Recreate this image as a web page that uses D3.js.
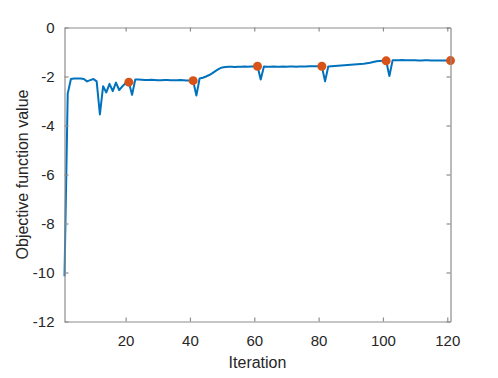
<!DOCTYPE html>
<html>
<head>
<meta charset="utf-8">
<script src="https://cdn.jsdelivr.net/npm/d3@7"></script>
<style>
  html, body { margin: 0; padding: 0; background: #fff; }
  svg { display: block; font-family: "Liberation Sans", Arial, Helvetica, sans-serif; }
</style>
</head>
<body>
<svg id="chart" width="498" height="378"></svg>
<script>
// ---- data ----
const objectiveValues = [
  -10.15, -2.7, -2.1, -2.08, -2.08, -2.08, -2.1, -2.2, -2.15, -2.1,
  -2.2, -3.55, -2.4, -2.65, -2.3, -2.6, -2.25, -2.55, -2.4, -2.28,
  -2.23, -2.75, -2.12,
  -2.12, -2.13, -2.14, -2.14, -2.13, -2.14, -2.15, -2.15, -2.14, -2.14,
  -2.15, -2.15, -2.15, -2.14, -2.15, -2.16, -2.16,
  -2.17, -2.78, -2.08, -2.05, -2.0, -1.94, -1.86, -1.77, -1.69, -1.63,
  -1.61, -1.6,
  -1.6, -1.61, -1.6, -1.6, -1.59, -1.6, -1.59, -1.59,
  -1.58, -2.12, -1.59,
  -1.6, -1.6, -1.59, -1.6, -1.6, -1.59, -1.6, -1.59, -1.59, -1.6,
  -1.59, -1.59, -1.59, -1.58, -1.58, -1.58, -1.58,
  -1.58, -2.2, -1.59,
  -1.58, -1.57, -1.56, -1.55, -1.54, -1.53, -1.52, -1.51, -1.5, -1.49,
  -1.48, -1.46, -1.44, -1.41, -1.38, -1.37, -1.36,
  -1.36, -1.98, -1.34,
  -1.34, -1.34, -1.33, -1.34, -1.34, -1.34, -1.34, -1.35, -1.35, -1.34,
  -1.34, -1.35, -1.35, -1.35, -1.35, -1.35, -1.35,
  -1.35
];
const iterations = objectiveValues.map((_, i) => i + 1);
const markerIterations = [21, 41, 61, 81, 101, 121];
const markerValues = markerIterations.map(it => objectiveValues[it - 1]);
const xTicks = [20, 40, 60, 80, 100, 120];
const yTicks = [-12, -10, -8, -6, -4, -2, 0];
const xLabel = "Iteration";
const yLabel = "Objective function value";

// ---- layout ----
const mLeft = 64.5, mRight = 450.5, mTop = 27.5, mBottom = 321.5;
const axisColor = "#8c8c8c";
const textColor = "#262626";
const tickLen = 4;

const svg = d3.select("#chart");
const x = d3.scaleLinear().domain([1, 121]).range([mLeft, mRight]);
const y = d3.scaleLinear().domain([-12, 0]).range([mBottom, mTop]);

// line
const line = d3.line().x((d, i) => x(iterations[i])).y(d => y(d));
svg.append("path")
  .datum(objectiveValues)
  .attr("d", line)
  .attr("fill", "none")
  .attr("stroke", "#0072BD")
  .attr("stroke-width", 2)
  .attr("stroke-linejoin", "round");

// markers
svg.append("g").selectAll("circle")
  .data(markerIterations)
  .join("circle")
  .attr("cx", d => x(d))
  .attr("cy", (d, i) => y(markerValues[i]))
  .attr("r", 4.5)
  .attr("fill", "#D95319");

// axes (ticks inward, box)
const axisStyle = g => {
  g.select(".domain").attr("stroke", axisColor).attr("stroke-width", 1.2);
  g.selectAll(".tick line").attr("stroke", axisColor).attr("stroke-width", 1.2);
  g.selectAll(".tick text").attr("fill", textColor)
    .style("font-family", "'Liberation Sans', Arial, sans-serif")
    .style("font-size", "15px");
};

svg.append("g")
  .attr("transform", `translate(0,${mBottom})`)
  .call(d3.axisBottom(x).tickValues(xTicks).tickSizeInner(-tickLen).tickSizeOuter(0).tickPadding(14))
  .call(axisStyle);

svg.append("g")
  .attr("transform", `translate(0,${mTop})`)
  .call(d3.axisTop(x).tickValues(xTicks).tickSizeInner(-tickLen).tickSizeOuter(0).tickFormat(""))
  .call(axisStyle);

svg.append("g")
  .attr("transform", `translate(${mLeft},0)`)
  .call(d3.axisLeft(y).tickValues(yTicks).tickSizeInner(-tickLen).tickSizeOuter(0).tickPadding(10)
    .tickFormat(d => d < 0 ? "-" + Math.abs(d) : String(d)))
  .call(axisStyle);

svg.append("g")
  .attr("transform", `translate(${mRight},0)`)
  .call(d3.axisRight(y).tickValues(yTicks).tickSizeInner(-tickLen).tickSizeOuter(0).tickFormat(""))
  .call(axisStyle);

// axis labels
svg.append("text")
  .attr("x", (mLeft + mRight) / 2)
  .attr("y", 368)
  .attr("text-anchor", "middle")
  .attr("fill", textColor)
  .style("font-size", "16px")
  .text(xLabel);

svg.append("text")
  .attr("transform", `translate(28,${(mTop + mBottom) / 2}) rotate(-90)`)
  .attr("text-anchor", "middle")
  .attr("fill", textColor)
  .style("font-size", "16px")
  .text(yLabel);
</script>
</body>
</html>
